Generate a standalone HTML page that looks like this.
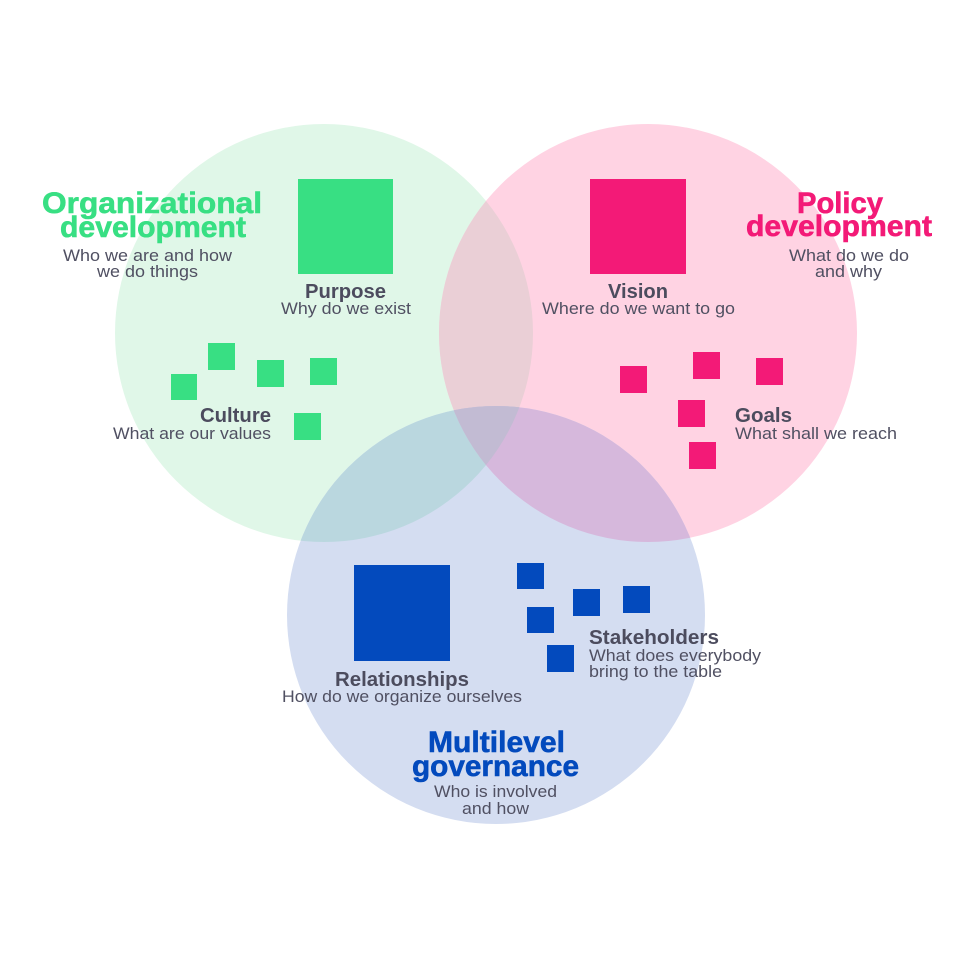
<!DOCTYPE html>
<html><head><meta charset="utf-8"><style>
html,body{margin:0;padding:0;background:#fff;}
svg{display:block;}
text{font-family:"Liberation Sans",sans-serif;}
.h{font-weight:bold;font-size:30px;stroke-width:0.6px;}
.l{font-weight:bold;font-size:20px;fill:#4c4c5e;}
.s{font-size:16.5px;fill:#505062;}
</style></head><body>
<svg width="960" height="960" viewBox="0 0 960 960" xmlns="http://www.w3.org/2000/svg">
<defs>
<clipPath id="cg"><circle cx="324" cy="333" r="209"/></clipPath>
<clipPath id="cp"><circle cx="648" cy="333" r="209"/></clipPath>
<clipPath id="cb"><circle cx="496" cy="615" r="209"/></clipPath>
</defs>
<rect width="960" height="960" fill="#fff"/>
<circle cx="324" cy="333" r="209" fill="#e0f7e8"/>
<circle cx="648" cy="333" r="209" fill="#ffd3e3"/>
<circle cx="496" cy="615" r="209" fill="#d4ddf1"/>
<g clip-path="url(#cg)"><circle cx="648" cy="333" r="209" fill="#eacfd6"/><circle cx="496" cy="615" r="209" fill="#bad7df"/></g>
<g clip-path="url(#cp)"><circle cx="496" cy="615" r="209" fill="#d6b8dc"/></g>
<g clip-path="url(#cg)"><g clip-path="url(#cp)"><circle cx="496" cy="615" r="209" fill="#c2bbd3"/></g></g>

<!-- green squares -->
<g fill="#38df83">
<rect x="298" y="179" width="95" height="95"/>
<rect x="208" y="343" width="27" height="27"/>
<rect x="171" y="374" width="26" height="26"/>
<rect x="257" y="360" width="27" height="27"/>
<rect x="310" y="358" width="27" height="27"/>
<rect x="294" y="413" width="27" height="27"/>
</g>
<!-- pink squares -->
<g fill="#f31a77">
<rect x="590" y="179" width="96" height="95"/>
<rect x="620" y="366" width="27" height="27"/>
<rect x="693" y="352" width="27" height="27"/>
<rect x="756" y="358" width="27" height="27"/>
<rect x="678" y="400" width="27" height="27"/>
<rect x="689" y="442" width="27" height="27"/>
</g>
<!-- blue squares -->
<g fill="#034abd">
<rect x="354" y="565" width="96" height="96"/>
<rect x="517" y="563" width="27" height="26"/>
<rect x="527" y="607" width="27" height="26"/>
<rect x="573" y="589" width="27" height="27"/>
<rect x="623" y="586" width="27" height="27"/>
<rect x="547" y="645" width="27" height="27"/>
</g>

<!-- Organizational -->
<text class="h" fill="#38df83" stroke="#38df83" x="42" y="213" textLength="220" lengthAdjust="spacingAndGlyphs">Organizational</text>
<text class="h" fill="#38df83" stroke="#38df83" x="60" y="237" textLength="186" lengthAdjust="spacingAndGlyphs">development</text>
<text class="s" x="63" y="261" textLength="169" lengthAdjust="spacingAndGlyphs">Who we are and how</text>
<text class="s" x="97" y="277" textLength="101" lengthAdjust="spacingAndGlyphs">we do things</text>

<text class="l" x="305" y="298" textLength="81" lengthAdjust="spacingAndGlyphs">Purpose</text>
<text class="s" x="281" y="314" textLength="130" lengthAdjust="spacingAndGlyphs">Why do we exist</text>
<text class="l" x="200" y="422" textLength="71" lengthAdjust="spacingAndGlyphs">Culture</text>
<text class="s" x="113" y="439" textLength="158" lengthAdjust="spacingAndGlyphs">What are our values</text>

<!-- Policy -->
<text class="h" fill="#f31a77" stroke="#f31a77" x="797" y="213" textLength="86" lengthAdjust="spacingAndGlyphs">Policy</text>
<text class="h" fill="#f31a77" stroke="#f31a77" x="746" y="236" textLength="186" lengthAdjust="spacingAndGlyphs">development</text>
<text class="s" x="789" y="261" textLength="120" lengthAdjust="spacingAndGlyphs">What do we do</text>
<text class="s" x="815" y="277" textLength="67" lengthAdjust="spacingAndGlyphs">and why</text>

<text class="l" x="608" y="298" textLength="60" lengthAdjust="spacingAndGlyphs">Vision</text>
<text class="s" x="542" y="314" textLength="193" lengthAdjust="spacingAndGlyphs">Where do we want to go</text>
<text class="l" x="735" y="422" textLength="57" lengthAdjust="spacingAndGlyphs">Goals</text>
<text class="s" x="735" y="439" textLength="162" lengthAdjust="spacingAndGlyphs">What shall we reach</text>

<!-- Multilevel -->
<text class="l" x="589" y="644" textLength="130" lengthAdjust="spacingAndGlyphs">Stakeholders</text>
<text class="s" x="589" y="661" textLength="172" lengthAdjust="spacingAndGlyphs">What does everybody</text>
<text class="s" x="589" y="677" textLength="133" lengthAdjust="spacingAndGlyphs">bring to the table</text>
<text class="l" x="335" y="686" textLength="134" lengthAdjust="spacingAndGlyphs">Relationships</text>
<text class="s" x="282" y="702" textLength="240" lengthAdjust="spacingAndGlyphs">How do we organize ourselves</text>

<text class="h" fill="#034abd" stroke="#034abd" x="428" y="752" textLength="137" lengthAdjust="spacingAndGlyphs">Multilevel</text>
<text class="h" fill="#034abd" stroke="#034abd" x="412" y="776" textLength="167" lengthAdjust="spacingAndGlyphs">governance</text>
<text class="s" x="434" y="797" textLength="123" lengthAdjust="spacingAndGlyphs">Who is involved</text>
<text class="s" x="462" y="814" textLength="67" lengthAdjust="spacingAndGlyphs">and how</text>
</svg>
</body></html>
